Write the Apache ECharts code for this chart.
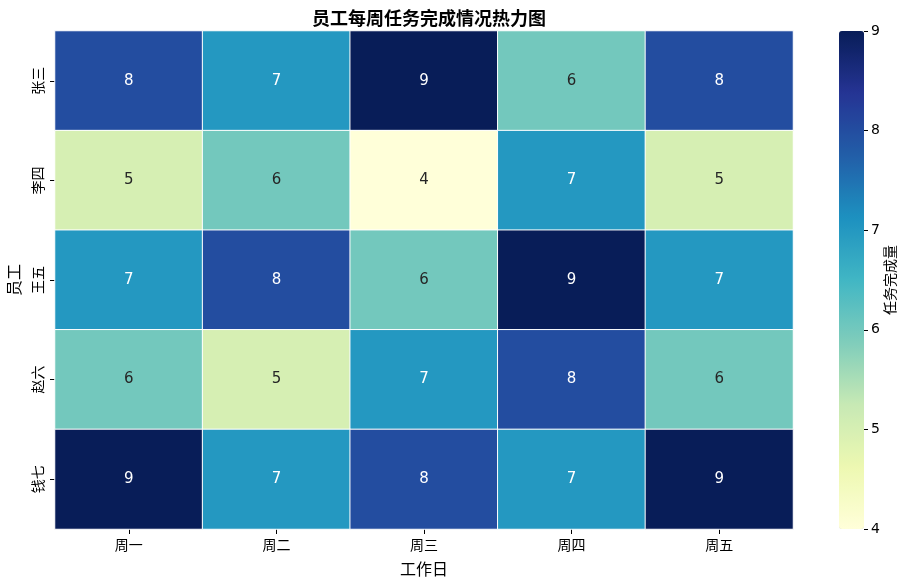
<!DOCTYPE html>
<html>
<head>
<meta charset="utf-8">
<script src="https://cdn.jsdelivr.net/npm/echarts@6/dist/echarts.min.js"></script>
<style>html,body{margin:0;padding:0;background:#fff}#c{width:913px;height:582px}</style>
</head>
<body>
<div id="c"></div>
<script>
var days = ['周一', '周二', '周三', '周四', '周五'];
var employees = ['张三', '李四', '王五', '赵六', '钱七'];
var row张三 = [8, 7, 9, 6, 8];
var row李四 = [5, 6, 4, 7, 5];
var row王五 = [7, 8, 6, 9, 7];
var row赵六 = [6, 5, 7, 8, 6];
var row钱七 = [9, 7, 8, 7, 9];
var rows = [row张三, row李四, row王五, row赵六, row钱七];
var colorTicks = [4, 5, 6, 7, 8, 9];
var ylgnbu = ['#ffffd9', '#edf8b1', '#c7e9b4', '#7fcdbb', '#41b6c4', '#1d91c0', '#225ea8', '#253494', '#081d58'];

var FONT = 'DejaVu Sans, Noto Sans CJK SC, sans-serif';
var data = [];
rows.forEach(function (r, yi) {
  r.forEach(function (v, xi) {
    data.push({ value: [xi, yi, v], label: { color: v >= 7 ? '#ffffff' : '#262626' } });
  });
});

var chart = echarts.init(document.getElementById('c'), null, { renderer: 'canvas' });
chart.setOption({
  backgroundColor: '#ffffff',
  animation: false,
  title: {
    text: '员工每周任务完成情况热力图',
    left: 424, top: 4, textAlign: 'center',
    textStyle: { fontFamily: 'Noto Sans CJK SC', fontWeight: 'bold', fontSize: 18, color: '#000' }
  },
  grid: [
    { left: 55, top: 31, width: 738, height: 498, containLabel: false, outerBoundsMode: 'none' },
    { left: 839, top: 31, width: 25, height: 498, containLabel: false, outerBoundsMode: 'none' }
  ],
  xAxis: [
    {
      type: 'category', data: days, gridIndex: 0,
      name: '工作日', nameLocation: 'middle', nameGap: 34,
      nameTextStyle: { fontFamily: FONT, fontSize: 16, color: '#000' },
      axisLine: { show: false },
      axisTick: { show: true, alignWithLabel: true, length: 5, lineStyle: { color: '#000' } },
      axisLabel: { fontFamily: FONT, fontSize: 14, color: '#000', margin: 10 },
      splitLine: { show: false }
    },
    { type: 'value', gridIndex: 1, show: false, min: 0, max: 1,
      axisTick: { show: false }, axisLabel: { show: false }, axisLine: { show: false } }
  ],
  yAxis: [
    {
      type: 'category', data: employees, gridIndex: 0, inverse: true,
      name: '员工', nameLocation: 'middle', nameGap: 29, nameRotate: 90,
      nameTextStyle: { fontFamily: FONT, fontSize: 16, color: '#000' },
      axisLine: { show: false },
      axisTick: { show: true, alignWithLabel: true, length: 5, lineStyle: { color: '#000' } },
      axisLabel: { fontFamily: FONT, fontSize: 14, color: '#000', rotate: 90, margin: 9 },
      splitLine: { show: false }
    },
    {
      type: 'value', gridIndex: 1, position: 'right', min: 4, max: 9, interval: 1,
      name: '任务完成量', nameLocation: 'middle', nameGap: 20, nameRotate: 90,
      nameTextStyle: { fontFamily: FONT, fontSize: 14, color: '#000' },
      axisLine: { show: false, onZero: false },
      axisTick: { show: true, inside: false, length: 4, lineStyle: { color: '#000', width: 1 } },
      axisLabel: { fontFamily: FONT, fontSize: 14, color: '#000', margin: 7,
        formatter: function (v) { return colorTicks.indexOf(v) >= 0 ? String(v) : ''; } },
      splitLine: { show: false }
    }
  ],
  visualMap: {
    type: 'continuous', seriesIndex: 0, min: 4, max: 9,
    calculable: false, orient: 'vertical', show: true,
    left: 839, top: 31, itemWidth: 25, itemHeight: 498, padding: 0,
    textStyle: { color: 'rgba(0,0,0,0)', fontSize: 1 },
    inRange: { color: ylgnbu }
  },
  series: [
    {
      type: 'heatmap', xAxisIndex: 0, yAxisIndex: 0, data: data,
      label: { show: true, fontFamily: FONT, fontSize: 15 },
      itemStyle: { borderColor: '#ffffff', borderWidth: 1 },
      emphasis: { disabled: true }
    }
  ]
});
</script>
</body>
</html>
